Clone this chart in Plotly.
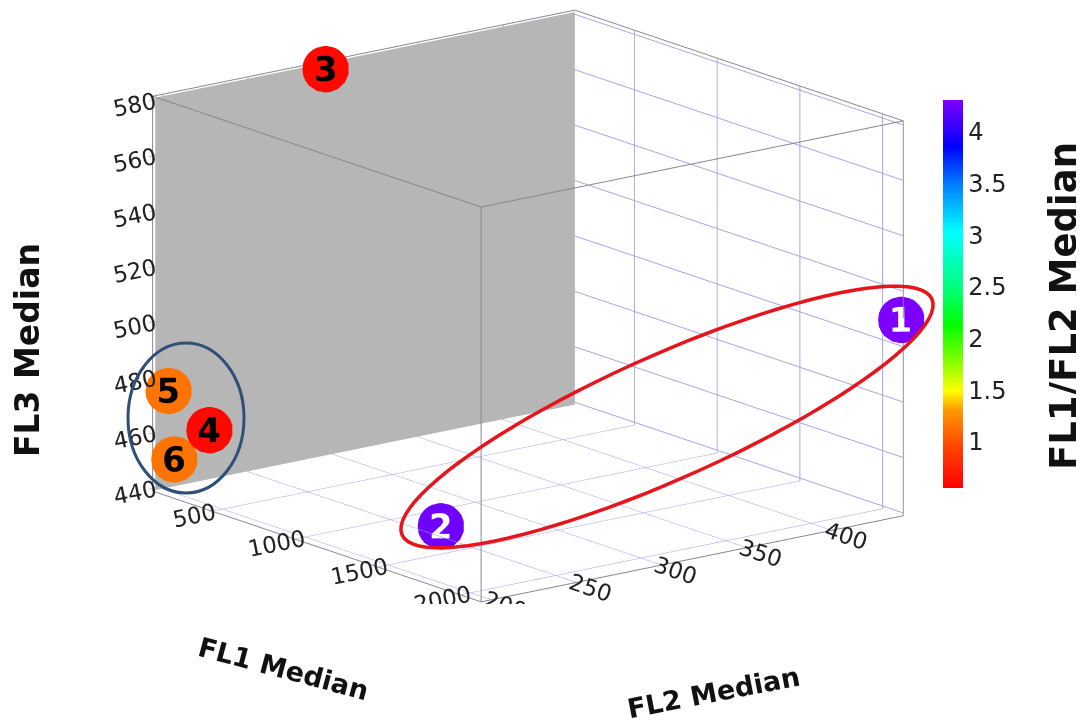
import math
import plotly.graph_objects as go

# ---------------- data ----------------
point_labels = ["1", "2", "3", "4", "5", "6"]
fl1_median = [2120, 1210, 215, 367, 223, 227]
fl2_median = [441, 259, 288, 205, 195, 198]
fl3_median = [510, 440, 581.3, 464.5, 477, 452]
fl1_fl2_ratio = [4.3, 4.25, 0.6, 0.6, 1.15, 1.15]

fl1_range = [140, 2125]
fl2_range = [194, 442]
fl3_range = [439, 581.5]
fl1_ticks = [500, 1000, 1500, 2000]
fl2_ticks = [200, 250, 300, 350, 400]
fl3_ticks = [440, 460, 480, 500, 520, 540, 560, 580]
ratio_ticks = [1, 1.5, 2, 2.5, 3, 3.5, 4]
ratio_ticktext = ["1", "1.5", "2", "2.5", "3", "3.5", "4"]

# page has an 8px body margin: figure is sized to the visible area
OFF = 8
W, H = 1084 - OFF, 724 - OFF

def to_paper(px, py):
    return (px - OFF) / W, 1 - (py - OFF) / H

colorscale = [
    [0.0, "#ff0000"], [0.1, "#ff4000"], [0.2, "#ff9900"], [0.25, "#ffff00"],
    [0.33, "#80ff00"], [0.42, "#00ff00"], [0.52, "#00ff80"], [0.66, "#00ffff"],
    [0.78, "#0080ff"], [0.88, "#0000ff"], [1.0, "#8000ff"],
]

text_colors = ["white", "white", "black", "black", "black", "black"]

tf = dict(family="DejaVu Sans", size=34, color=text_colors)
try:
    go.scatter3d.Textfont(weight="bold")
    tf["weight"] = "bold"
except Exception:
    pass

cb_x, cb_y = to_paper(943 - 10, 294)
trace = go.Scatter3d(
    x=fl1_median, y=fl2_median, z=fl3_median,
    mode="markers+text",
    text=point_labels,
    textposition="middle center",
    textfont=tf,
    marker=dict(
        size=27, color=fl1_fl2_ratio, colorscale=colorscale,
        cmin=0.555, cmax=4.31, opacity=1, line=dict(width=0),
        showscale=True,
        colorbar=dict(
            x=cb_x, xanchor="left", y=cb_y, yanchor="middle",
            len=(388 + 20) / H, lenmode="fraction", thickness=20,
            outlinewidth=0, tickvals=ratio_ticks, ticktext=ratio_ticktext,
            tickfont=dict(family="DejaVu Sans", size=24, color="#222"),
            ticks="",
        ),
    ),
    hoverinfo="skip",
)

# box geometry derived from the axis ranges (tiny inset avoids clipping flicker)
x0, x1 = fl1_range
y0, y1 = fl2_range
z0, z1 = fl3_range
ex, ey, ez = (x1 - x0) * 2e-4, (y1 - y0) * 2e-4, (z1 - z0) * 2e-4
edge_color = "rgb(135,135,145)"
edges = go.Scatter3d(
    x=[x0 + ex, x1 - ex, x1 - ex, None, x1 - ex, x1 - ex],
    y=[y0 + ey, y0 + ey, y1 - ey, None, y0 + ey, y0 + ey],
    z=[z1 - ez, z1 - ez, z1 - ez, None, z1 - ez, z0 + ez],
    mode="lines", line=dict(color=edge_color, width=2),
    hoverinfo="skip", showlegend=False,
)

# solid gray back wall at FL1 = min (covers the grid there, as in the original)
wx = x0 + (x1 - x0) * 0.004
wy0, wy1 = y0 + (y1 - y0) * 0.003, y1 - (y1 - y0) * 0.003
wz0, wz1 = z0 + (z1 - z0) * 0.003, z1 - (z1 - z0) * 0.003
wall = go.Mesh3d(
    x=[wx, wx, wx, wx], y=[wy0, wy1, wy1, wy0], z=[wz0, wz0, wz1, wz1],
    i=[0, 0], j=[1, 2], k=[2, 3],
    color="rgb(182,182,182)", opacity=1, flatshading=True,
    lighting=dict(ambient=1.0, diffuse=0.0, specular=0.0, fresnel=0.0, roughness=1.0),
    hoverinfo="skip", showscale=False,
)

fig = go.Figure([wall, edges, trace])

grid = "rgb(165,165,232)"
common = dict(
    showgrid=True, gridcolor=grid, gridwidth=2,
    showline=True, linecolor=edge_color, linewidth=2, mirror=True,
    zeroline=False, ticks="outside", ticklen=5, tickcolor=edge_color,
    tickfont=dict(family="DejaVu Sans", size=16.5, color="#222"),
    title=dict(text=""), showspikes=False,
)

eye_dir = (0.761, -0.592, 0.262)
dist = 3.5
eye = dict(x=eye_dir[0] * dist, y=eye_dir[1] * dist, z=eye_dir[2] * dist)

zoom = 1.795

dx0, dy_top = to_paper(528, 306)
half_w = min(dx0, 1 - dx0)
half_h = min(dy_top, 1 - dy_top)

fig.update_layout(
    width=W, height=H,
    margin=dict(l=0, r=0, t=0, b=0),
    paper_bgcolor="white",
    showlegend=False,
    scene=dict(
        domain=dict(x=[dx0 - half_w, dx0 + half_w], y=[dy_top - half_h, dy_top + half_h]),
        xaxis=dict(common, range=fl1_range, tickvals=fl1_ticks, showbackground=False),
        yaxis=dict(common, range=fl2_range, tickvals=fl2_ticks, showbackground=False),
        zaxis=dict(common, range=fl3_range, tickvals=fl3_ticks, showbackground=False),
        aspectmode="manual",
        aspectratio=dict(x=1 * zoom, y=1 * zoom, z=0.765 * zoom),
        camera=dict(eye=eye, up=dict(x=0, y=0, z=1),
                    projection=dict(type="orthographic")),
        bgcolor="white",
    ),
)

# ---------------- overlay ellipses (pixel params -> paper) ----------------
def ellipse_path(cx, cy, a, b, ang_deg, n=90):
    th = math.radians(ang_deg)
    pts = []
    for i in range(n):
        t = 2 * math.pi * i / n
        X = cx + a * math.cos(t) * math.cos(th) - b * math.sin(t) * math.sin(th)
        Y = cy - (a * math.cos(t) * math.sin(th) + b * math.sin(t) * math.cos(th))
        pts.append(to_paper(X, Y))
    return "M " + " L ".join(f"{x:.5f},{y:.5f}" for x, y in pts) + " Z"

fig.add_shape(type="path", xref="paper", yref="paper",
              path=ellipse_path(667, 417, 290, 62, 24),
              line=dict(color="#e8141c", width=3.5))
bx0, by0 = to_paper(186 - 58, 418 + 75)
bx1, by1 = to_paper(186 + 58, 418 - 75)
fig.add_shape(type="circle", xref="paper", yref="paper",
              x0=bx0, y0=by0, x1=bx1, y1=by1,
              line=dict(color="#2f4f78", width=3))

# ---------------- axis titles ----------------
def title_ann(text, px, py, angle, size):
    x, y = to_paper(px, py)
    return dict(text=f"<b>{text}</b>", x=x, y=y, xref="paper", yref="paper",
                showarrow=False, textangle=angle, xanchor="center", yanchor="middle",
                font=dict(family="DejaVu Sans", size=size, color="#111"))

fig.update_layout(annotations=[
    title_ann("FL3 Median", 27, 350, -90, 33),
    title_ann("FL1 Median", 283, 668, 15, 27),
    title_ann("FL2 Median", 713, 692, -11, 27),
    title_ann("FL1/FL2 Median", 1064, 306, -90, 37),
])

fig.write_html("out.html")
